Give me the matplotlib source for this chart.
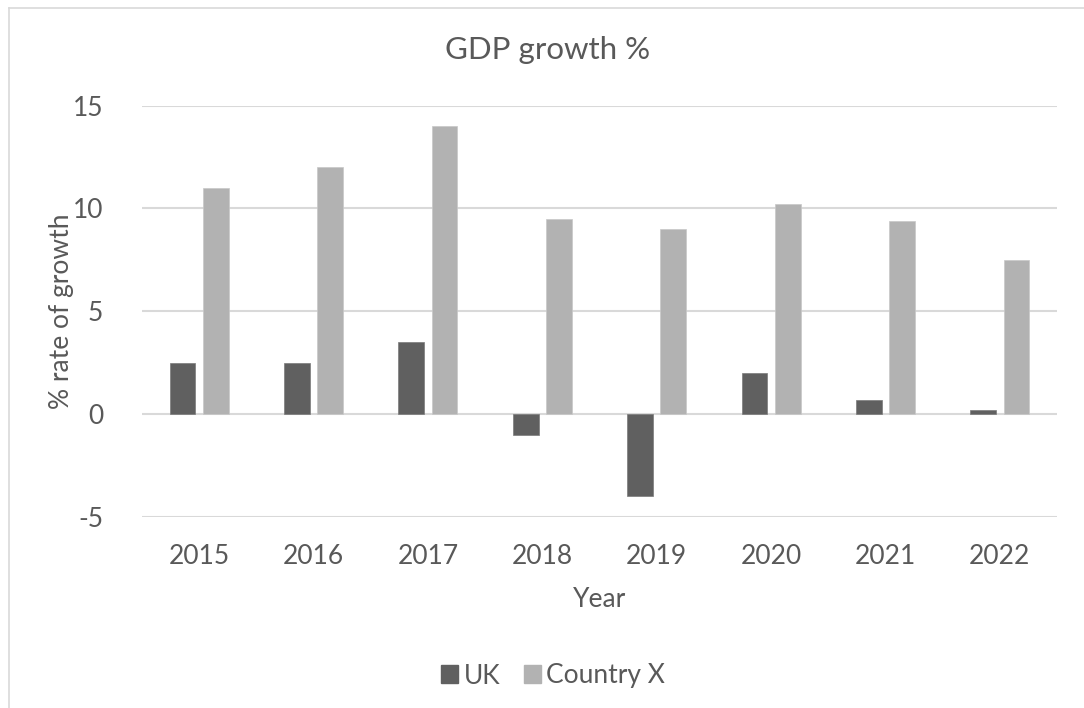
import matplotlib.pyplot as plt
import numpy as np
from matplotlib.lines import Line2D
from matplotlib.patches import Patch

plt.rcParams['font.family'] = ['Lato', 'DejaVu Sans']

# data
years = ["2015", "2016", "2017", "2018", "2019", "2020", "2021", "2022"]
uk = [2.5, 2.5, 3.5, -1.0, -4.0, 2.0, 0.7, 0.2]
country_x = [11.0, 12.0, 14.0, 9.5, 9.0, 10.2, 9.4, 7.5]
y_ticks = [-5, 0, 5, 10, 15]

txt = "#595959"
grid = "#d9d9d9"
c_uk = "#606060"
c_x = "#b2b2b2"

W, H = 1084, 708
fig = plt.figure(figsize=(W / 100, H / 100), dpi=100)
ax = fig.add_axes([142 / W, 1 - 516.7 / H, (1057 - 142) / W, (516.7 - 105.7) / H])

x = np.arange(len(years))
bw = 0.225
off = 0.145
ax.bar(x - off, uk, bw, color=c_uk, edgecolor="#7a7a7a", linewidth=0.5, zorder=3)
ax.bar(x + off, country_x, bw, color=c_x, edgecolor="#c8c8c8", linewidth=0.5, zorder=3)

ax.set_xlim(-0.5, len(years) - 0.5)
ax.set_ylim(-5, 15)
ax.set_yticks(y_ticks)
ax.set_yticklabels([str(v) for v in y_ticks])
ax.set_xticks(x)
ax.set_xticklabels(years)
ax.yaxis.grid(True, color=grid, linewidth=1.5, zorder=0)
ax.tick_params(length=0, labelsize=19, colors=txt)
ax.tick_params(axis="y", pad=28)
ax.tick_params(axis="x", pad=20)
for s in ax.spines.values():
    s.set_visible(False)

ax.set_xlabel("Year", fontsize=19, color=txt, va="center")
ax.set_ylabel("% rate of growth", fontsize=19, color=txt, va="center")
ax.xaxis.set_label_coords(0.5, (517 - 600) / 411)
ax.yaxis.set_label_coords((62 - 142) / 915, 0.5)
fig.text(548 / W, 1 - 50 / H, "GDP growth %", fontsize=22.5, color=txt,
         ha="center", va="center")

handles = [Patch(color=c_uk, label="UK"), Patch(color=c_x, label="Country X")]
fig.legend(handles=handles, loc="center", bbox_to_anchor=(553 / W, 1 - 676 / H),
           ncol=2, frameon=False, fontsize=19, labelcolor=txt,
           handlelength=0.65, handleheight=0.65, handletextpad=0.2, columnspacing=0.9)

# chart area border (only top and left edges are inside the crop)
fig.add_artist(Line2D([8.5 / W, 1], [1 - 7.5 / H, 1 - 7.5 / H], color=grid, linewidth=1.2))
fig.add_artist(Line2D([8.5 / W, 8.5 / W], [0, 1 - 7.5 / H], color=grid, linewidth=1.2))

fig.savefig("out.png", dpi=100, facecolor="white")
